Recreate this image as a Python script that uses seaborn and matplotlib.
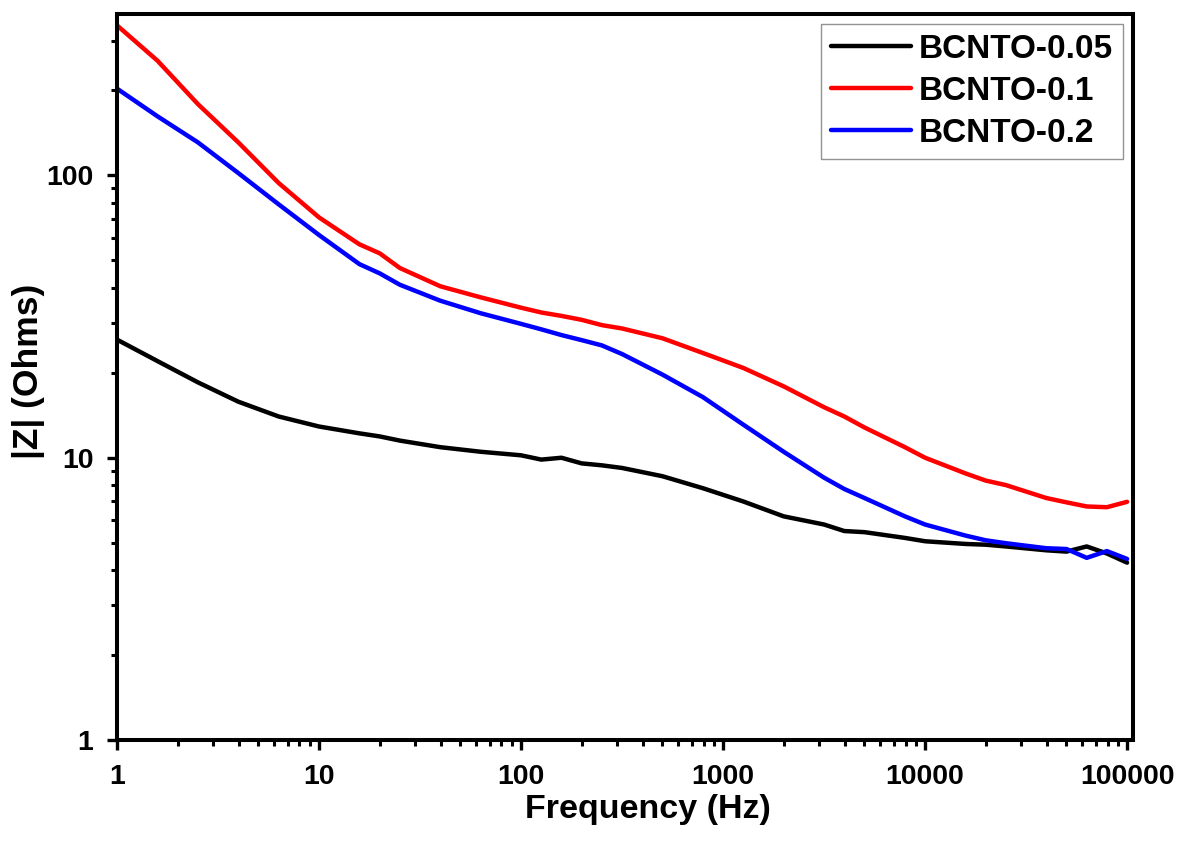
import numpy as np
import pandas as pd
import matplotlib
matplotlib.use("Agg")
import matplotlib.pyplot as plt
import matplotlib.ticker as mticker
import seaborn as sns

freq = [1, 1.585, 2.512, 3.981, 6.310, 10, 15.85, 19.95, 25.12, 39.81, 63.10,
        100, 125.9, 158.5, 199.5, 251.2, 316.2, 501.2, 794.3, 1259, 1995,
        3162, 3981, 5012, 7943, 10000, 15850, 19950, 25120, 39810, 50120,
        63100, 79430, 100000]

z_005 = [26.2, 22.0, 18.5, 15.8, 14.0, 12.9, 12.2, 11.9, 11.5, 10.9, 10.5,
         10.2, 9.85, 10.0, 9.55, 9.4, 9.2, 8.6, 7.8, 7.0, 6.2,
         5.8, 5.5, 5.45, 5.2, 5.06, 4.95, 4.92, 4.85, 4.7, 4.65,
         4.85, 4.58, 4.25]

z_01 = [340, 255, 179, 131, 94, 71, 57, 53, 47, 40.5, 37,
        34, 32.7, 31.8, 30.8, 29.5, 28.7, 26.5, 23.5, 20.8, 17.9,
        15.1, 14.0, 12.8, 10.9, 10.0, 8.8, 8.3, 8.0, 7.2, 6.95,
        6.72, 6.68, 6.98]

z_02 = [203, 162, 131, 102, 79, 61.5, 48.5, 45, 41, 36, 32.5,
        29.8, 28.5, 27.2, 26.1, 25.0, 23.3, 19.7, 16.4, 13.1, 10.5,
        8.5, 7.75, 7.2, 6.2, 5.8, 5.3, 5.1, 4.98, 4.78, 4.75,
        4.42, 4.67, 4.38]

labels = ["BCNTO-0.05", "BCNTO-0.1", "BCNTO-0.2"]
colors = ["black", "#ff0000", "#0000ff"]
x_ticks = [1, 10, 100, 1000, 10000, 100000]
y_ticks = [1, 10, 100]

df = pd.concat([
    pd.DataFrame({"Frequency": freq, "Z": z, "Sample": lab})
    for z, lab in zip([z_005, z_01, z_02], labels)
], ignore_index=True)

sns.set_theme(style="ticks")
plt.rcParams["font.family"] = ["Liberation Sans", "DejaVu Sans"]
plt.rcParams["font.weight"] = "bold"
plt.rcParams["text.color"] = "black"
plt.rcParams["axes.labelcolor"] = "black"
plt.rcParams["xtick.color"] = "black"
plt.rcParams["ytick.color"] = "black"

fig = plt.figure(figsize=(11.8, 8.42), dpi=100)
ax = fig.add_axes([0.0992, 0.1211, 0.8610, 0.8622])

sns.lineplot(data=df, x="Frequency", y="Z", hue="Sample", hue_order=labels,
             palette=colors, linewidth=3.2, ax=ax, sort=False, estimator=None)

ax.set_xscale("log")
ax.set_yscale("log")
ax.set_xlim(1, 107000)
ax.set_ylim(1, 373)

ax.xaxis.set_major_locator(mticker.FixedLocator(x_ticks))
ax.xaxis.set_major_formatter(mticker.FixedFormatter([str(t) for t in x_ticks]))
ax.yaxis.set_major_locator(mticker.FixedLocator(y_ticks))
ax.yaxis.set_major_formatter(mticker.FixedFormatter([str(t) for t in y_ticks]))
ax.xaxis.set_minor_locator(mticker.LogLocator(base=10, subs=np.arange(2, 10)))
ax.yaxis.set_minor_locator(mticker.LogLocator(base=10, subs=np.arange(2, 10)))
ax.xaxis.set_minor_formatter(mticker.NullFormatter())
ax.yaxis.set_minor_formatter(mticker.NullFormatter())

ax.tick_params(which="major", length=7, width=2.4, direction="out",
               labelsize=20.5, pad=10, color="black", labelcolor="black")
ax.tick_params(which="minor", length=4.5, width=2.2, direction="out", color="black")
for lab in ax.get_xticklabels() + ax.get_yticklabels():
    lab.set_fontweight("bold")

for s in ax.spines.values():
    s.set_linewidth(2.9)
    s.set_color("black")

ax.set_xlabel("Frequency (Hz)", fontsize=24.5, fontweight="bold", labelpad=3,
              color="black")
ax.set_ylabel("|Z| (Ohms)", fontsize=25.5, fontweight="bold", labelpad=1,
              color="black")
ax.xaxis.label.set_x(0.523)
ax.yaxis.label.set_y(0.508)

leg = ax.legend(loc="upper right", frameon=True, fancybox=False,
                edgecolor="#777777", handlelength=2.4, handletextpad=0.25,
                labelspacing=0.33, borderpad=0.3, borderaxespad=0.3,
                prop={"weight": "bold", "size": 24})
leg.get_frame().set_linewidth(1.0)
for t in leg.get_texts():
    t.set_color("black")
for line in leg.get_lines():
    line.set_linewidth(3.2)

fig.savefig("out.png", dpi=100, facecolor="white")
